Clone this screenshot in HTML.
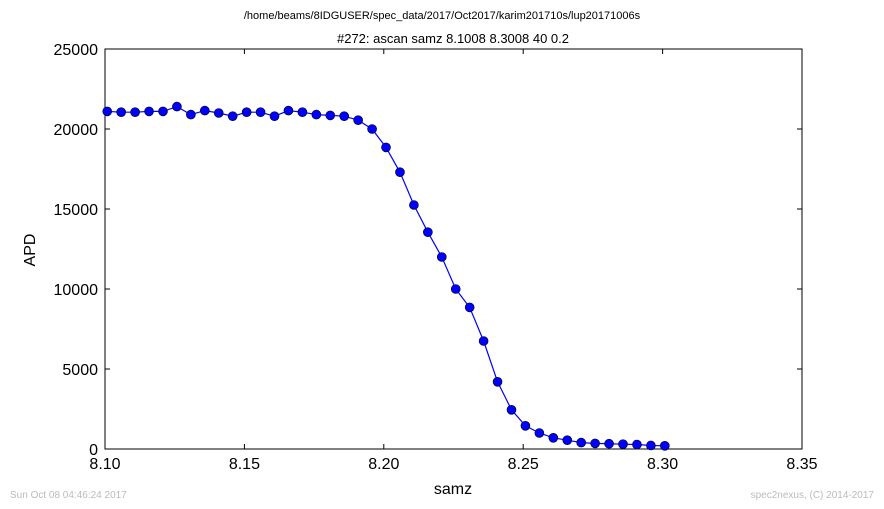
<!DOCTYPE html>
<html><head><meta charset="utf-8"><style>
body{margin:0;background:#fff;}
svg{display:block;font-family:"Liberation Sans","DejaVu Sans",sans-serif;}
</style></head><body>
<svg width="884" height="509">
<rect width="884" height="509" fill="#fff"/>
<text x="442" y="19" font-size="11" text-anchor="middle">/home/beams/8IDGUSER/spec_data/2017/Oct2017/karim201710s/lup20171006s</text>
<text x="453" y="43" font-size="13" text-anchor="middle">#272: ascan  samz 8.1008 8.3008  40 0.2</text>
<g id="axes"></g>
<rect x="105" y="49" width="697" height="400" fill="none" stroke="#000" stroke-width="1"/>
<g id="series"></g>
<text x="453" y="494" font-size="16" text-anchor="middle">samz</text>
<text x="35" y="250" font-size="16" text-anchor="middle" transform="rotate(-90 35 250)">APD</text>
<text x="10" y="498" font-size="10" fill="#bbb">Sun Oct 08 04:46:24 2017</text>
<text x="874" y="498" font-size="10" fill="#bbb" text-anchor="end">spec2nexus, (C) 2014-2017</text>
</svg>
<script>
const xStart = 8.1008, xStep = 0.005;
const apd = [21100,21050,21050,21100,21100,21400,20900,21150,21000,20800,21050,21050,20800,21150,21050,20900,20850,20800,20550,20000,18850,17300,15250,13550,12000,10000,8850,6750,4200,2450,1450,1000,700,550,400,350,330,300,280,220,200];
const xTicks = [8.10,8.15,8.20,8.25,8.30,8.35];
const xTickLabels = ["8.10","8.15","8.20","8.25","8.30","8.35"];
const yTicks = [0,5000,10000,15000,20000,25000];
const yTickLabels = ["0","5000","10000","15000","20000","25000"];
const NS="http://www.w3.org/2000/svg";
const X0=105,X1=802,Y0=449,Y1=49;
function sx(v){return X0+(v-8.10)/(8.35-8.10)*(X1-X0);}
function sy(v){return Y0-(v/25000)*(Y0-Y1);}
function mk(t,a,p){const e=document.createElementNS(NS,t);for(const k in a)e.setAttribute(k,a[k]);p.appendChild(e);return e;}
const ax=document.getElementById('axes');
xTicks.forEach((t,i)=>{
  const x=sx(t);
  const l=mk('line',{x1:x,x2:x,y1:Y0,y2:Y0-5,stroke:'#000'},ax);
  
  
  const l2=mk('line',{x1:x,x2:x,y1:Y1,y2:Y1+5,stroke:'#000'},ax);
  
  
  const tx=mk('text',{x:x,y:Y0+20,'font-size':16,'text-anchor':'middle'},ax);
  tx.textContent=xTickLabels[i];
  
  
});
yTicks.forEach((t,i)=>{
  const y=sy(t);
  const l=mk('line',{x1:X0,x2:X0+5,y1:y,y2:y,stroke:'#000'},ax);
  
  
  const l2=mk('line',{x1:X1,x2:X1-5,y1:y,y2:y,stroke:'#000'},ax);
  
  
  const tx=mk('text',{x:X0-7,y:y+6,'font-size':16,'text-anchor':'end'},ax);
  tx.textContent=yTickLabels[i];
  
  
});
const sg=document.getElementById('series');
const pts=apd.map((v,i)=>[sx(xStart+i*xStep),sy(v)]);
const pl=mk('polyline',{points:pts.map(p=>p.join(',')).join(' '),fill:'none',stroke:'#0000ff','stroke-width':1.2},sg);


pts.forEach(p=>{
  const c=mk('circle',{cx:p[0],cy:p[1],r:4.5,fill:'#0000ff',stroke:'#000','stroke-width':0.6},sg);
  
  
});
</script>
</body></html>
